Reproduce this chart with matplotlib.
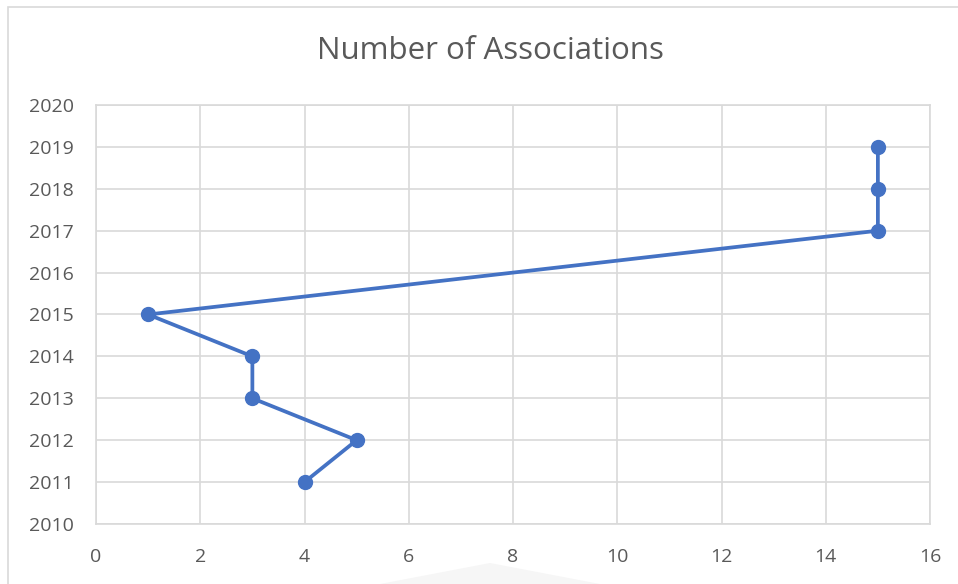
import matplotlib
matplotlib.use("Agg")
import matplotlib.pyplot as plt
from matplotlib.patches import Rectangle, Polygon

# Number of associations per year
associations = [4, 5, 3, 3, 1, 15, 15, 15]
years = [2011, 2012, 2013, 2014, 2015, 2017, 2018, 2019]

x_ticks = [0, 2, 4, 6, 8, 10, 12, 14, 16]
y_ticks = list(range(2010, 2021))

plt.rcParams['font.family'] = ['Open Sans', 'DejaVu Sans']

fig = plt.figure(figsize=(9.58, 5.84), dpi=100)
ax = fig.add_axes([96/958, 1-524/584, (930-96)/958, (524-105)/584])

text_color = '#595959'
grid_color = '#d9d9d9'
blue = '#4472C4'

# chart frame
fig.patches.append(Rectangle((8/958, -0.1), 1.2, 1 - 7/584 + 0.1, transform=fig.transFigure,
                             fill=False, edgecolor=grid_color, linewidth=1.2))
# faint backdrop shape at the bottom
fig.patches.append(Polygon([(380/958, 0), (490/958, 1-563/584), (600/958, 0)],
                           closed=True, transform=fig.transFigure,
                           facecolor='#f6f6f6', edgecolor='none', zorder=0))

ax.plot(associations, years, color=blue, linewidth=2.7, marker='o',
        markersize=10, markerfacecolor=blue, markeredgecolor=blue, zorder=3)

ax.set_xlim(0, 16)
ax.set_ylim(2010, 2020)
ax.set_xticks(x_ticks)
ax.set_yticks(y_ticks)
ax.set_yticklabels([str(y) for y in y_ticks])
ax.grid(True, color=grid_color, linewidth=1.2)
ax.set_axisbelow(True)
for side in ['top', 'right', 'left', 'bottom']:
    ax.spines[side].set_color(grid_color)
    ax.spines[side].set_linewidth(1.2)
ax.tick_params(length=0, labelsize=14, colors=text_color)
ax.tick_params(axis='y', pad=16)
ax.tick_params(axis='x', pad=17.5)
ax.patch.set_alpha(0)

fig.text(490/958, 1-51/584, 'Number of Associations', ha='center', va='center',
         fontsize=22.5, color=text_color)

fig.savefig('out.png', dpi=100)
